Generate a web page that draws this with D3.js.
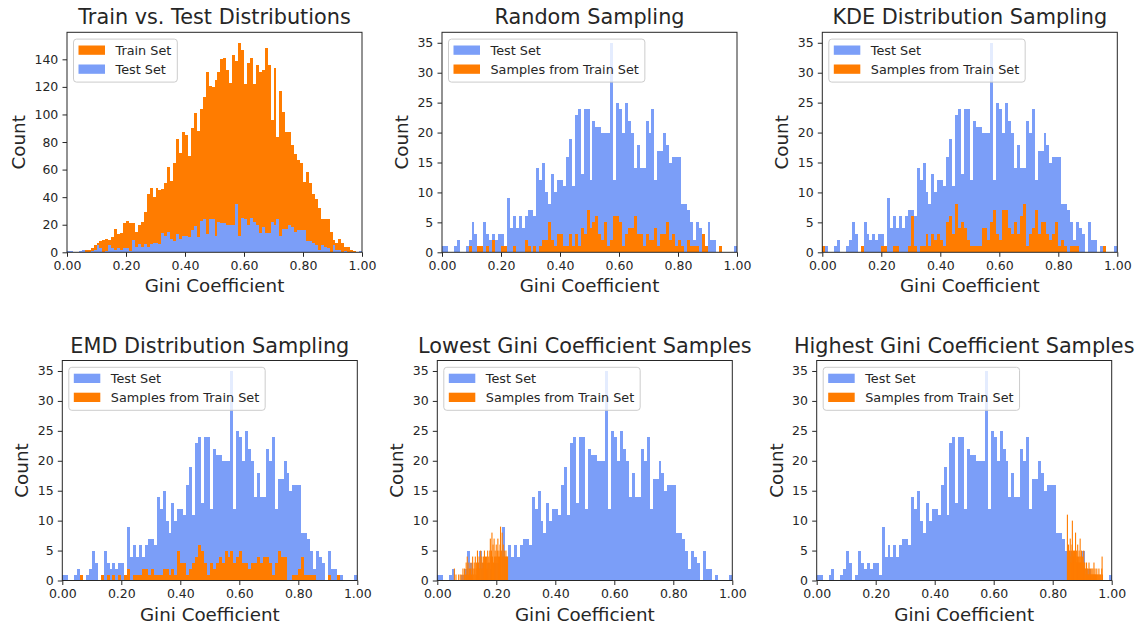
<!DOCTYPE html>
<html><head><meta charset="utf-8">
<script src="https://cdn.jsdelivr.net/npm/d3@7"></script>
<style>
body{margin:0;background:#fff;}
text{font-family:"DejaVu Sans",sans-serif;fill:#262626;}
</style>
</head><body>
<svg id="chart" width="1143" height="628"></svg>
<script>
// ---- data (100 bins of width 0.01 on [0,1] unless stated) ----
const binStart = 0, binWidth = 0.01;
const testCounts = [
 1,1,0,0,1,2,0,0,1,2,
 5,3,0,1,5,3,2,3,2,3,
 3,1,9,4,6,4,6,4,6,7,
 7,6,14,12,15,10,8,13,10,12,
 12,11,16,19,11,23,24,13,24,24,
 12,22,21,21,20,20,20,35,12,25,
 24,20,25,22,20,14,18,14,14,22,
 20,24,12,17,17,20,18,15,16,16,
 16,8,8,7,5,2,5,4,3,0,
 5,2,2,0,1,0,0,0,0,1];
const trainCounts = [
 0,0,0,0,1,2,2,2,3,5,
 7,8,9,10,9,11,17,13,14,21,
 23,21,21,15,20,22,29,42,47,40,
 47,45,46,50,62,52,65,82,72,87,
 85,70,90,101,88,104,113,131,121,120,
 125,131,140,141,132,123,143,139,152,147,
 122,137,141,122,136,131,132,148,136,96,
 134,84,117,102,87,87,78,71,67,65,
 51,58,50,42,39,32,24,24,24,15,
 9,7,10,7,4,4,2,1,0,0];
const randomCounts = [
 0,0,0,0,0,0,0,0,0,1,
 0,0,1,1,0,1,0,2,0,0,
 1,1,0,0,1,0,0,0,2,1,
 0,1,0,1,2,2,5,2,1,3,
 3,1,1,3,1,3,1,4,3,7,
 4,5,6,3,2,5,1,2,6,6,
 5,1,3,4,4,6,3,3,1,3,
 2,2,4,1,3,3,5,2,3,1,
 2,1,0,2,1,1,1,0,3,1,
 0,0,0,0,1,0,0,0,0,0];
const kdeCounts = [
 1,0,0,0,0,0,0,0,0,0,
 0,0,0,1,0,0,0,0,0,0,
 1,1,0,0,1,1,0,0,0,1,
 6,1,0,1,1,3,1,3,2,3,
 2,1,5,6,3,8,4,5,4,2,
 1,1,1,1,4,4,2,5,7,3,
 2,7,7,4,3,5,3,6,8,1,
 3,4,7,3,5,5,3,2,3,5,
 1,2,1,0,1,1,1,0,0,0,
 0,0,0,0,0,1,0,0,0,0];
const emdCounts = [
 0,0,0,0,0,0,1,0,0,0,
 0,0,0,1,0,1,0,1,0,1,
 0,1,2,0,1,1,1,2,2,1,
 2,1,1,1,2,2,1,2,1,5,
 3,3,1,2,3,4,6,5,3,1,
 3,2,3,4,3,5,4,5,3,4,
 5,3,3,2,3,3,4,3,4,4,
 3,1,3,5,4,4,0,0,1,1,
 2,4,1,1,1,1,0,0,0,0,
 1,0,0,1,0,0,0,0,0,0];
// lowest / highest samples: 100 bins spanning the samples' own range
const lowRange = [0.056, 0.238];
const lowCounts = [
 2,0,0,1,0,0,0,0,1,0,
 0,1,0,0,1,0,2,0,1,2,
 0,1,3,1,4,2,1,3,2,1,
 2,3,1,2,4,2,1,3,2,4,
 1,3,2,5,2,3,4,2,3,5,
 2,4,3,2,4,3,5,2,4,3,
 4,2,5,3,4,3,5,7,4,5,
 8,4,6,3,7,4,5,4,6,4,
 5,7,4,5,4,6,9,4,5,8,
 4,6,4,5,4,4,5,4,4,4];
const highRange = [0.848, 0.968];
const highCounts = [
 11,4,5,6,4,3,5,4,7,3,
 4,5,3,6,10,4,3,5,4,3,
 5,4,3,8,4,3,5,3,4,6,
 3,4,3,5,3,4,7,3,4,3,
 5,3,2,4,3,2,5,3,2,3,
 2,1,2,1,3,1,2,1,2,1,
 1,3,1,2,1,1,2,1,1,2,
 1,1,2,1,1,3,1,1,2,1,
 1,0,1,2,1,0,1,1,0,2,
 1,0,1,0,1,0,0,2,4,1];

const xTickValues = [0, 0.2, 0.4, 0.6, 0.8, 1.0];
const yTicksTrain = [0,20,40,60,80,100,120,140];
const yTicksSample = [0,5,10,15,20,25,30,35];
const titles = ["Train vs. Test Distributions","Random Sampling","KDE Distribution Sampling",
  "EMD Distribution Sampling","Lowest Gini Coefficient Samples","Highest Gini Coefficient Samples"];
const xLabel = "Gini Coefficient", yLabel = "Count";
const legTrain = "Train Set", legTest = "Test Set", legSamples = "Samples from Train Set";

const BLUE = "#7b9ef8", ORANGE = "#ff7c00";
const W = 295, H = 220;

function layer(counts, color, start, width, crisp){ return {counts, color, start, width, crisp}; }
const testLayer = layer(testCounts, BLUE, binStart, binWidth, true);
const sampleLegend = [[legTest, BLUE],[legSamples, ORANGE]];

const panels = [
 {title:titles[0], left:67, top:32.3, yTicks:yTicksTrain, ylabOff:42,
  layers:[layer(trainCounts, ORANGE, binStart, binWidth, true), testLayer],
  legend:[[legTrain, ORANGE],[legTest, BLUE]]},
 {title:titles[1], left:442, top:32.3, yTicks:yTicksSample, ylabOff:34,
  layers:[testLayer, layer(randomCounts, ORANGE, binStart, binWidth, true)], legend:sampleLegend},
 {title:titles[2], left:822.3, top:32.3, yTicks:yTicksSample, ylabOff:34,
  layers:[testLayer, layer(kdeCounts, ORANGE, binStart, binWidth, true)], legend:sampleLegend},
 {title:titles[3], left:62.3, top:360.5, yTicks:yTicksSample, ylabOff:34,
  layers:[testLayer, layer(emdCounts, ORANGE, binStart, binWidth, true)], legend:sampleLegend},
 {title:titles[4], left:437.3, top:360.5, yTicks:yTicksSample, ylabOff:34,
  layers:[testLayer, layer(lowCounts, ORANGE, lowRange[0], (lowRange[1]-lowRange[0])/lowCounts.length, false)], legend:sampleLegend},
 {title:titles[5], left:816.7, top:360.5, yTicks:yTicksSample, ylabOff:34,
  layers:[testLayer, layer(highCounts, ORANGE, highRange[0], (highRange[1]-highRange[0])/highCounts.length, false)], legend:sampleLegend}
];

const svg = d3.select("#chart");
svg.append("rect").attr("width",1143).attr("height",628).attr("fill","#fff");

panels.forEach(p => {
  const g = svg.append("g").attr("transform", `translate(${p.left},${p.top})`);
  const x = d3.scaleLinear().domain([0,1]).range([0,W]);
  const ymaxData = d3.max(p.layers, l => d3.max(l.counts));
  const y = d3.scaleLinear().domain([0, ymaxData*1.05]).range([H,0]);

  p.layers.forEach(l => {
    const bins = l.counts.map((c,i) => ({x0:l.start + i*l.width, x1:l.start + (i+1)*l.width, c}))
      .filter(b => b.c > 0);
    g.append("g").attr("shape-rendering", l.crisp ? "crispEdges" : "auto")
      .selectAll("rect").data(bins).join("rect")
      .attr("x", b => x(b.x0))
      .attr("width", b => l.crisp ? Math.max(0, x(b.x1) - x(b.x0)) : Math.max(1.1, x(b.x1) - x(b.x0)))
      .attr("y", b => y(b.c))
      .attr("height", b => y(0) - y(b.c))
      .attr("fill", l.color);
  });

  // axes
  const xa = g.append("g").attr("transform", `translate(0,${H})`)
    .call(d3.axisBottom(x).tickValues(xTickValues).tickFormat(d3.format(".2f")).tickSize(4.5).tickPadding(4.5));
  const ya = g.append("g")
    .call(d3.axisLeft(y).tickValues(p.yTicks).tickFormat(d3.format("d")).tickSize(4.5).tickPadding(4.2));
  [xa, ya].forEach(a => {
    a.select(".domain").remove();
    a.selectAll(".tick line").attr("stroke","#262626").attr("stroke-width",1);
    a.selectAll(".tick text").attr("font-size","12.5px").attr("font-family","DejaVu Sans").attr("fill","#262626");
  });

  // spines
  g.append("rect").attr("x",0).attr("y",0).attr("width",W).attr("height",H)
    .attr("fill","none").attr("stroke","#262626").attr("stroke-width",1);

  // title & labels
  g.append("text").attr("x", W/2).attr("y", -8).attr("text-anchor","middle")
    .attr("font-size","20.8px").text(p.title);
  g.append("text").attr("x", W/2).attr("y", H + 40).attr("text-anchor","middle")
    .attr("font-size","18.3px").text(xLabel);
  g.append("text").attr("transform", `translate(${-p.ylabOff},${H/2}) rotate(-90)`)
    .attr("text-anchor","middle").attr("font-size","18.3px").text(yLabel);

  // legend
  const lg = g.append("g").attr("transform","translate(6.5,6.8)");
  const box = lg.append("rect").attr("rx",3).attr("ry",3).attr("height",43)
    .attr("fill","#fff").attr("fill-opacity",0.8).attr("stroke","#cccccc").attr("stroke-width",1);
  let maxW = 0;
  p.legend.forEach((d,i) => {
    const cy = 11 + i*19;
    lg.append("rect").attr("x",5).attr("y",cy-4.6).attr("width",26.5).attr("height",9.3).attr("fill",d[1]);
    const t = lg.append("text").attr("x",42).attr("y",cy).attr("dy","0.36em")
      .attr("font-size","12.8px").text(d[0]);
    maxW = Math.max(maxW, t.node().getComputedTextLength());
  });
  box.attr("width", 42 + maxW + 6);
});
</script>
</body></html>
